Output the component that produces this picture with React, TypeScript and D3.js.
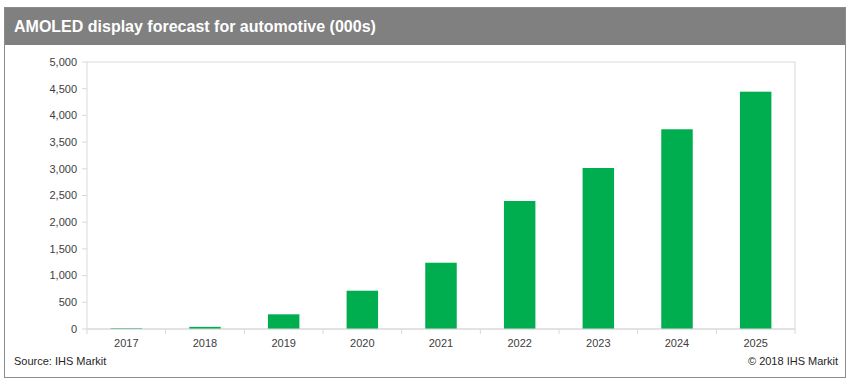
import { scaleBand, scaleLinear, format } from "d3";

const years = ["2017", "2018", "2019", "2020", "2021", "2022", "2023", "2024", "2025"];
const units = [15, 40, 275, 717, 1241, 2397, 3015, 3740, 4444];
const yTicks = [0, 500, 1000, 1500, 2000, 2500, 3000, 3500, 4000, 4500, 5000];

const title = "AMOLED display forecast for automotive (000s)";
const source = "Source: IHS Markit";
const credit = "© 2018 IHS Markit";

const W = 851;
const H = 388;
const plot = { left: 87, right: 795, top: 62, bottom: 329 };
const font = "'Liberation Sans', Arial, sans-serif";

export default function App() {
  const x = scaleBand().domain(years).range([plot.left, plot.right]).paddingInner(0.6).paddingOuter(0.3);
  const y = scaleLinear().domain([0, 5000]).range([plot.bottom, plot.top]);
  const fmt = format(",");
  const step = x.step();
  const bounds = years.map((_, i) => plot.left + ((plot.right - plot.left) / years.length) * i);
  bounds.push(plot.right);

  return (
    <svg width={W} height={H} style={{ position: "absolute", left: 0, top: 0, background: "#fff" }} fontFamily={font}>
      {/* outer frame */}
      <rect x={4.5} y={7.5} width={841} height={370} fill="#fff" stroke="#8c8c8c" />
      <rect x={5} y={8} width={840} height={37} fill="#808080" />
      <text x={14} y={32} fill="#fff" fontSize={16} fontWeight="bold">{title}</text>

      {/* plot area border */}
      <rect x={plot.left} y={plot.top} width={plot.right - plot.left} height={plot.bottom - plot.top}
        fill="none" stroke="#d9d9d9" />

      {yTicks.map((t) => (
        <g key={t}>
          <line x1={plot.left - 5} x2={plot.left} y1={y(t)} y2={y(t)} stroke="#d9d9d9" />
          <text x={77} y={y(t)} dy="0.35em" textAnchor="end" fontSize={11} fill="#404040">{fmt(t)}</text>
        </g>
      ))}

      {years.map((yr, i) => (
        <rect key={yr} x={x(yr)} y={y(units[i])} width={x.bandwidth()} height={plot.bottom - y(units[i])} fill="#00ad4f" />
      ))}

      <line x1={plot.left} x2={plot.right} y1={plot.bottom} y2={plot.bottom} stroke="#d9d9d9" />
      {bounds.map((b, i) => (
        <line key={i} x1={b} x2={b} y1={plot.bottom} y2={plot.bottom + 5} stroke="#d9d9d9" />
      ))}
      {years.map((yr) => (
        <text key={yr} x={(x(yr) ?? 0) + x.bandwidth() / 2} y={343} dy="0.35em" textAnchor="middle" fontSize={11} fill="#404040">
          {yr}
        </text>
      ))}

      <text x={14} y={361} dy="0.35em" fontSize={11} fill="#262626">{source}</text>
      <text x={838} y={361} dy="0.35em" textAnchor="end" fontSize={11} fill="#262626">{credit}</text>
      {step ? null : null}
    </svg>
  );
}
